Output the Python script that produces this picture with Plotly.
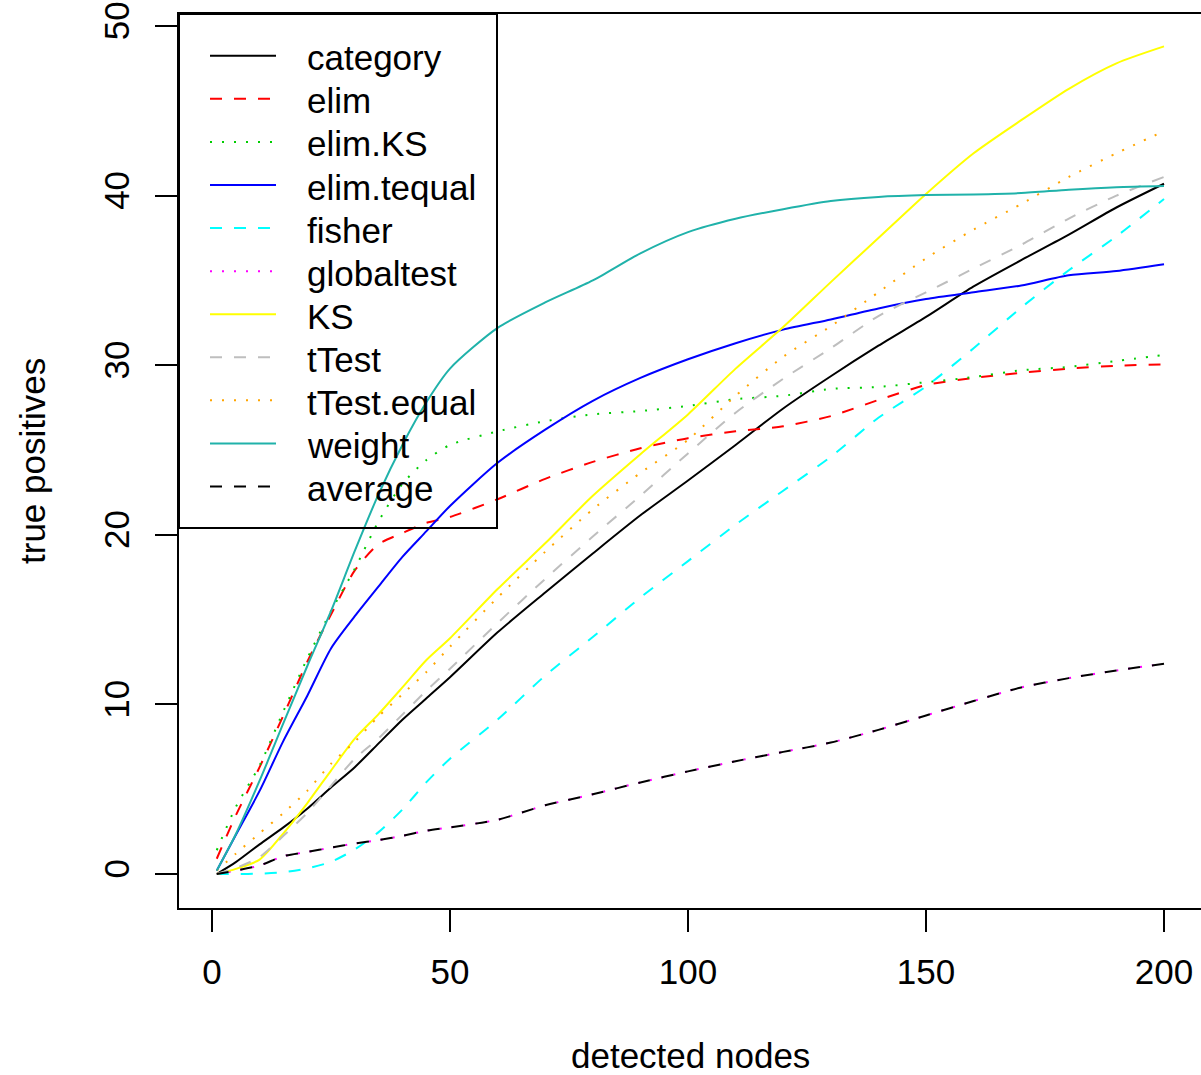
import plotly.graph_objects as go

# detected nodes at which each cumulative curve is sampled
nodes = [1, 5, 10, 15, 20, 25, 30, 35, 40, 45, 50, 60, 70, 80, 90, 100,
         110, 120, 130, 140, 150, 160, 170, 180, 190, 200]

category = [0, 0.7, 1.75, 2.75, 3.85, 5.1, 6.3, 7.7, 9.1, 10.35, 11.6, 14.25, 16.6,
            18.9, 21.15, 23.2, 25.3, 27.45, 29.35, 31.15, 32.85, 34.65, 36.2, 37.7, 39.3, 40.7]
elim = [0.9, 3.45, 6.3, 9.35, 12.5, 15.3, 17.9, 19.45, 20.1, 20.7, 21.05, 22.1, 23.3,
        24.3, 25.1, 25.7, 26.1, 26.4, 27.0, 27.95, 28.83, 29.25, 29.55, 29.8, 29.97, 30.05]
elim_KS = [1.4, 3.95, 6.4, 9.6, 12.7, 15.5, 18.0, 20.8, 23.0, 24.4, 25.3, 26.1, 26.7,
           27.1, 27.3, 27.6, 28.0, 28.2, 28.6, 28.72, 29.0, 29.3, 29.7, 29.9, 30.25, 30.6]
elim_tequal = [0.2, 2.3, 4.9, 7.85, 10.5, 13.3, 15.2, 16.96, 18.7, 20.2, 21.7, 24.25, 26.2,
               27.9, 29.25, 30.35, 31.3, 32.1, 32.7, 33.35, 33.9, 34.3, 34.7, 35.3, 35.55, 35.95]
fisher = [0, 0, 0.02, 0.1, 0.33, 0.72, 1.45, 2.47, 3.8, 5.4, 6.8, 9.1, 11.7,
          13.97, 16.3, 18.45, 20.6, 22.6, 24.6, 26.9, 28.75, 31.0, 33.4, 35.6, 37.6, 39.8]
globaltest = [0, 0.2, 0.5, 1.05, 1.3, 1.55, 1.8, 2.0, 2.25, 2.55, 2.75, 3.2, 4.05,
              4.7, 5.4, 6.05, 6.65, 7.2, 7.75, 8.5, 9.35, 10.2, 11.0, 11.55, 12.0, 12.4]
KS = [0, 0.3, 0.85, 2.4, 4.17, 6.1, 7.98, 9.43, 11.0, 12.6, 13.9, 16.8, 19.5,
      22.3, 24.75, 27.1, 29.8, 32.25, 34.9, 37.5, 40.1, 42.5, 44.45, 46.3, 47.8, 48.8]
tTest = [0, 0.35, 1.0, 2.25, 3.6, 5.2, 6.8, 8.0, 9.4, 10.8, 12.1, 14.8, 17.4,
         19.9, 22.3, 24.8, 27.2, 29.2, 31.0, 32.9, 34.3, 35.7, 37.1, 38.65, 40.0, 41.1]
tTest_equal = [0.2, 1.2, 2.4, 3.6, 4.9, 6.5, 7.8, 9.3, 10.6, 11.9, 13.4, 16.3, 19.0,
               21.5, 23.65, 25.6, 28.2, 30.5, 32.3, 34.3, 36.3, 38.0, 39.5, 41.1, 42.5, 43.8]
weight = [0.2, 2.34, 5.5, 8.89, 12.25, 15.5, 19.05, 22.4, 25.3, 27.8, 29.8, 32.2, 33.7,
          35.0, 36.6, 37.85, 38.64, 39.2, 39.68, 39.92, 40.03, 40.07, 40.15, 40.35, 40.5, 40.57]
average = [0, 0.2, 0.5, 1.05, 1.3, 1.55, 1.8, 2.0, 2.25, 2.55, 2.75, 3.2, 4.05,
           4.7, 5.4, 6.05, 6.65, 7.2, 7.75, 8.5, 9.35, 10.2, 11.0, 11.55, 12.0, 12.4]

x_ticks = [0, 50, 100, 150, 200]
y_ticks = [0, 10, 20, 30, 40, 50]

SOLID = "solid"
DASH = "12px,12px"
DOT = "2px,10px"

series = [
    ("category", category, "#000000", SOLID),
    ("elim", elim, "#FF0000", DASH),
    ("elim.KS", elim_KS, "#00CD00", DOT),
    ("elim.tequal", elim_tequal, "#0000FF", SOLID),
    ("fisher", fisher, "#00FFFF", DASH),
    ("globaltest", globaltest, "#FF00FF", DOT),
    ("KS", KS, "#FFFF00", SOLID),
    ("tTest", tTest, "#BEBEBE", DASH),
    ("tTest.equal", tTest_equal, "#FFA500", DOT),
    ("weight", weight, "#20B2AA", SOLID),
    ("average", average, "#000000", DASH),
]

FONT = "Liberation Sans, Arial, Helvetica, sans-serif"
FS = 35
W, H = 1201, 1075
ML, MT, MB = 179, 14, 167
PW, PH = W - ML, H - MT - MB

fig = go.Figure()
for name, vals, col, dash in series:
    fig.add_trace(go.Scatter(x=nodes, y=vals, mode="lines", name=name,
                             line=dict(color=col, width=2, dash=dash,
                                       shape="spline", smoothing=0.7),
                             showlegend=False, hoverinfo="skip"))

# legend keys: short line samples on an auxiliary axis pair (pixel rows from top)
row0, row_step = 41.8, 43.07
key_x0, key_x1 = (210 - ML) / PW, (276 - ML) / PW
text_x = (305 - ML) / PW
for i, (name, vals, col, dash) in enumerate(series):
    r = row0 + row_step * i
    fig.add_trace(go.Scatter(x=[0, 1], y=[r, r], mode="lines", xaxis="x2", yaxis="y2",
                             line=dict(color=col, width=2, dash=dash),
                             showlegend=False, hoverinfo="skip"))
    fig.add_annotation(text=name, xref="paper", yref="y2", x=text_x, y=r,
                       xanchor="left", yanchor="middle", showarrow=False,
                       yshift=-2, font=dict(family=FONT, size=FS, color="black"))

# legend frame
fig.add_shape(type="rect", xref="paper", yref="paper",
              x0=0, x1=(497 - ML) / PW, y0=(MT + PH - 528) / PH, y1=1,
              line=dict(color="black", width=2), fillcolor="rgba(0,0,0,0)")

# axis titles
fig.add_annotation(text="detected nodes", xref="paper", yref="paper",
                   x=0.5005, y=(MT + PH - 1055) / PH, xanchor="center", yanchor="middle",
                   showarrow=False, font=dict(family=FONT, size=FS, color="black"))
fig.add_annotation(text="true positives", xref="paper", yref="paper",
                   x=(32 - ML) / PW, y=0.5, xanchor="center", yanchor="middle",
                   textangle=-90, showarrow=False,
                   font=dict(family=FONT, size=FS, color="black"))

fig.update_layout(
    width=W, height=H,
    margin=dict(l=ML, r=0, t=MT, b=MB, pad=0),
    paper_bgcolor="white", plot_bgcolor="rgba(0,0,0,0)",
    font=dict(family=FONT, size=FS, color="black"),
    showlegend=False,
    xaxis=dict(range=[-6.93, 207.77], tickvals=x_ticks, ticks="outside", ticklen=22,
               tickwidth=2, tickcolor="black", showgrid=False, zeroline=False,
               showline=True, mirror=True, linecolor="black", linewidth=2,
               ticklabelstandoff=10, tickfont=dict(family=FONT, size=FS)),
    yaxis=dict(range=[-2.005, 50.71], tickvals=y_ticks, ticks="outside", ticklen=22,
               tickwidth=2, tickcolor="black", showgrid=False, zeroline=False,
               showline=True, mirror=False, linecolor="black", linewidth=2,
               tickangle=-90, ticklabelstandoff=12, tickfont=dict(family=FONT, size=FS)),
    xaxis2=dict(domain=[key_x0, key_x1], range=[0, 1], anchor="y2", visible=False,
                fixedrange=True),
    yaxis2=dict(domain=[0, 1], range=[PH, 0], anchor="x2", visible=False,
                fixedrange=True),
)

fig.write_html("out.html")
